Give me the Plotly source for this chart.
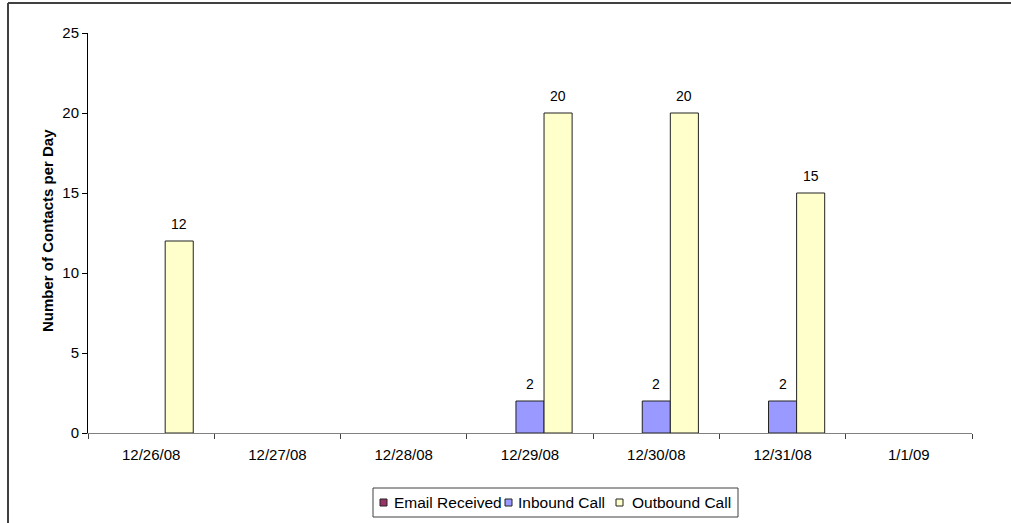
import plotly.graph_objects as go

# Daily contact counts by channel
dates = ["12/26/08", "12/27/08", "12/28/08", "12/29/08", "12/30/08", "12/31/08", "1/1/09"]
email_received = [0, 0, 0, 0, 0, 0, 0]
inbound_call = [0, 0, 0, 2, 2, 2, 0]
outbound_call = [12, 0, 0, 20, 20, 15, 0]

series = [
    ("Email Received", email_received, "#993366"),
    ("Inbound Call", inbound_call, "#9999FF"),
    ("Outbound Call", outbound_call, "#FFFFCC"),
]

FONT = "Liberation Sans, Arial, sans-serif"
W, H = 1011, 523
ML, MR, MT, MB = 88, 39, 33, 90
PW, PH = W - ML - MR, H - MT - MB
BAR_PX = PW / len(dates) * (1 - 0.333) / len(series)


def px_x(px):
    return (px - ML) / PW


def px_y(py):
    return (H - MB - py) / PH


fig = go.Figure()
annotations = []
shapes = []
for i, (name, vals, color) in enumerate(series):
    fig.add_trace(go.Bar(
        name=name,
        x=dates,
        y=vals,
        marker=dict(color=color,
                    line=dict(color="#222222", width=[1 if v else 0 for v in vals])),
        showlegend=False,
    ))
    # value labels above non-empty bars
    for d, v in zip(dates, vals):
        if v:
            annotations.append(dict(
                x=d, y=v, xref="x", yref="y",
                xshift=(i - (len(series) - 1) / 2) * BAR_PX,
                yshift=17, yanchor="middle",
                text=str(v), showarrow=False,
                font=dict(family=FONT, size=14, color="#000000"),
            ))

# legend drawn as a compact boxed row
shapes.append(dict(type="rect", xref="paper", yref="paper",
                   x0=px_x(373), x1=px_x(738), y0=px_y(517), y1=px_y(488),
                   line=dict(color="#404040", width=1), fillcolor="white",
                   layer="below"))
legend_sq = [380, 505, 616]
legend_txt = [392, 516, 630]
for (name, _, color), sx, tx in zip(series, legend_sq, legend_txt):
    shapes.append(dict(type="rect", xref="paper", yref="paper",
                       x0=px_x(sx), x1=px_x(sx + 7), y0=px_y(506), y1=px_y(499),
                       line=dict(color="#222222", width=1), fillcolor=color))
    annotations.append(dict(
        x=px_x(tx), y=px_y(502.5), xref="paper", yref="paper",
        xanchor="left", yanchor="middle", text=name, showarrow=False,
        font=dict(family=FONT, size=15.5, color="#000000"),
    ))

annotations.append(dict(
    text="<b>Number of Contacts per Day</b>",
    xref="paper", yref="paper",
    x=px_x(47), y=px_y(231), xanchor="center", yanchor="middle",
    textangle=-90, showarrow=False,
    font=dict(family=FONT, size=15, color="#000000"),
))

# chart frame (top and left edges)
shapes.append(dict(type="line", xref="paper", yref="paper",
                   x0=px_x(8), x1=px_x(8), y0=px_y(530), y1=px_y(3),
                   line=dict(color="#404040", width=2)))
shapes.append(dict(type="line", xref="paper", yref="paper",
                   x0=px_x(8), x1=px_x(1020), y0=px_y(3), y1=px_y(3),
                   line=dict(color="#404040", width=2)))

fig.update_layout(
    width=W,
    height=H,
    margin=dict(l=ML, r=MR, t=MT, b=MB),
    paper_bgcolor="white",
    plot_bgcolor="white",
    barmode="group",
    bargap=0.333,
    bargroupgap=0,
    font=dict(family=FONT, size=15, color="#000000"),
    showlegend=False,
    xaxis=dict(
        type="category",
        automargin=False,
        showline=True, linecolor="#808080", linewidth=1,
        ticks="outside", ticklen=5, tickcolor="#404040",
        showgrid=False,
        tickfont=dict(family=FONT, size=15),
        tickson="boundaries",
        ticklabelstandoff=8,
    ),
    yaxis=dict(
        range=[0, 25], dtick=5,
        automargin=False,
        showline=True, linecolor="#000000", linewidth=1,
        ticks="outside", ticklen=5, tickcolor="#000000",
        showgrid=False, zeroline=False,
        tickfont=dict(family=FONT, size=15),
    ),
    annotations=annotations,
    shapes=shapes,
)

fig.write_html("out.html")
